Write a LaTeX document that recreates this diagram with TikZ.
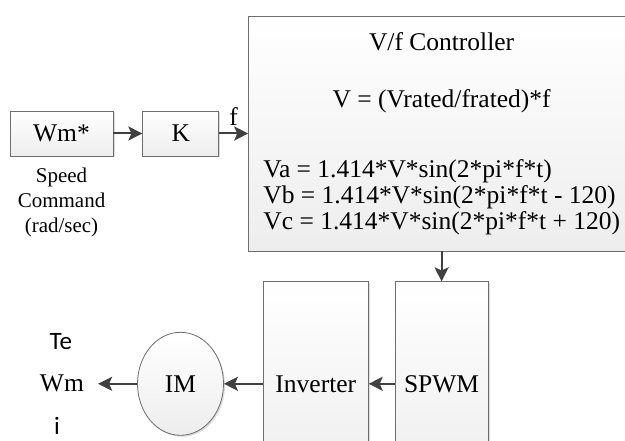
\documentclass[tikz,border=0pt]{standalone}
\usepackage{fontspec}
\setmainfont{Liberation Serif}
\newfontfamily\calibri{Carlito}
\usetikzlibrary{positioning,arrows.meta,shapes.geometric,shadows}
\definecolor{cline}{HTML}{404040}
\definecolor{cedge}{HTML}{6E6E6E}

\begin{document}
\begin{tikzpicture}[>={Stealth[length=14pt,width=14pt,inset=3pt]},
  font=\fontsize{25.5}{26}\selectfont,
  block/.style={draw=cedge,line width=0.8pt,top color=white,bottom color=black!7,
                drop shadow={shadow xshift=1.5pt,shadow yshift=-1.5pt,
                             fill=black!35,opacity=0.4},
                inner sep=0pt,minimum height=45pt},
  tall/.style={block,minimum height=204pt},
  motor/.style={block,ellipse,minimum width=86pt,minimum height=103pt},
  sig/.style={->,draw=cline,line width=2pt},
  txt/.style={inner sep=0pt}]
\useasboundingbox (0,0) rectangle (625pt,-441pt);
\node[block,minimum width=103pt] (wm) at (61.5pt,-133.5pt) {Wm*};
\node[block,minimum width=76pt,right=29pt of wm] (k) {K};
\node[block,minimum width=386pt,minimum height=235pt,right=29pt of k] (ctrl) {};
\node[txt] (title) at ([yshift=-26pt]ctrl.north) {V/f Controller};
\node[txt] (law) at ([yshift=-86pt]ctrl.north) {V = (Vrated/frated)*f};
\node[txt,anchor=west,align=left] (eqs) at ([xshift=15pt,yshift=-63.5pt]ctrl.west)
  {Va = 1.414*V*sin(2*pi*f*t)\\Vb = 1.414*V*sin(2*pi*f*t - 120)\\Vc = 1.414*V*sin(2*pi*f*t + 120)};
\node[txt,below=11pt of wm,align=center,font=\fontsize{21}{25}\selectfont] (cmd)
  {Speed\\Command\\(rad/sec)};
\node[tall,minimum width=93pt,below=30pt of ctrl] (spwm) {SPWM};
\node[tall,minimum width=105pt,left=26pt of spwm] (inv) {Inverter};
\node[motor,left=39pt of inv] (im) {IM};
\node[txt,inner xsep=14pt,left=39pt of im] (wmout) {Wm};
\node[txt,font=\calibri\fontsize{25}{26}\selectfont] (te) at ([xshift=-1pt,yshift=42pt]wmout.center) {Te};
\node[txt,font=\calibri\fontsize{25}{26}\selectfont] (iout) at ([xshift=-5pt,yshift=-42pt]wmout.center) {i};
\draw[sig] (wm)--(k);
\draw[sig] (k)--node[above,inner sep=7pt]{f}(ctrl);
\draw[sig] (ctrl)--(spwm);
\draw[sig] (spwm)--(inv);
\draw[sig] (inv)--(im);
\draw[sig] (im)--(wmout);
\end{tikzpicture}
\end{document}
